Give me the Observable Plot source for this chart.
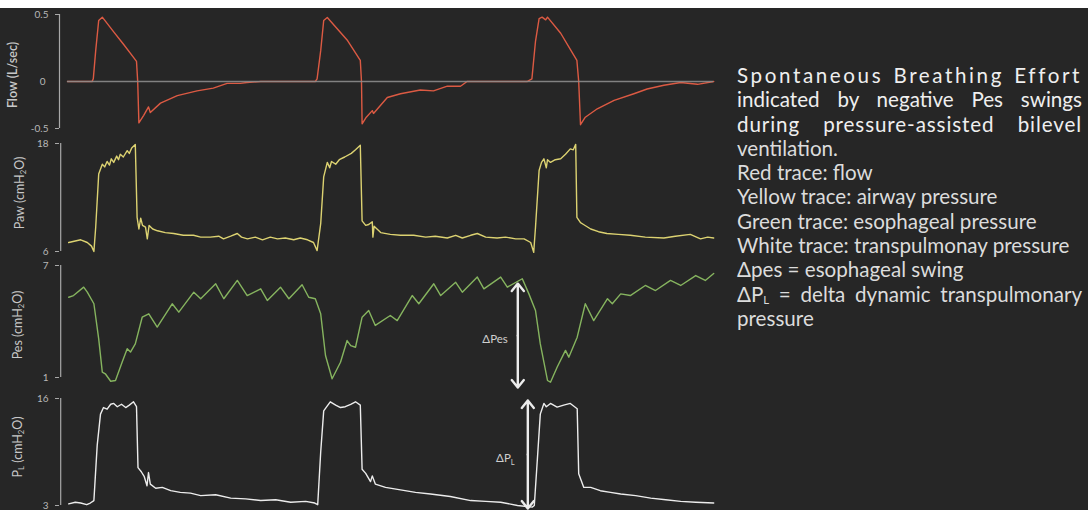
<!DOCTYPE html>
<html>
<head>
<meta charset="utf-8">
<script src="https://cdn.jsdelivr.net/npm/d3@7"></script>
<script src="https://cdn.jsdelivr.net/npm/@observablehq/plot@0.6"></script>
<style>
  html, body { margin: 0; padding: 0; background: #ffffff; }
  #root { position: relative; width: 1088px; height: 510px; overflow: hidden; background: #ffffff; }
  #dark { position: absolute; left: 0; top: 8px; width: 1088px; height: 502px; background: #262626; }
  .panel { position: absolute; left: 0; }
  .panel svg { display: block; }
  .ylab { position: absolute; transform: translate(-50%, -50%) rotate(-90deg); white-space: nowrap;
          font-family: Lato, "Open Sans", sans-serif; font-size: 12.5px; color: #c8c8c8; }
  .ylab sub { font-size: 0.62em; line-height: 0; vertical-align: -0.3em; }
  #note sub { font-size: 0.55em; line-height: 0; vertical-align: -0.15em; }
  #note { position: absolute; left: 737px; top: 63px; width: 345px; font-family: Lato, "Open Sans", sans-serif;
          font-size: 20.6px; line-height: 24.3px; color: #dcdcdc; }
  #note div { height: 24.3px; }
  #note .j { text-align: justify; text-align-last: justify; white-space: nowrap; }
  #note .w { color: #efefef; }
</style>
</head>
<body>
<div id="root">
  <div id="dark"></div>
</div>
<script>
// ---------- data (time in s, values in panel units) ----------
const flowTrace = [
  [0,0],[0.41,0],[0.43,0.02],[0.47,0.23],[0.52,0.455],[0.58,0.48],[0.77,0.37],[0.93,0.28],[1.10,0.18],[1.15,0.15],
  [1.17,0],[1.19,-0.44],[1.27,-0.36],[1.35,-0.27],[1.38,-0.33],[1.55,-0.23],[1.83,-0.15],[2.16,-0.10],[2.43,-0.07],
  [2.66,-0.02],[2.88,-0.02],[2.99,-0.01],[3.22,0],[4.13,0],[4.16,0.02],[4.22,0.23],[4.27,0.455],[4.33,0.478],
  [4.66,0.31],[4.88,0.157],[4.90,0],[4.91,-0.45],[4.98,-0.38],[5.08,-0.31],[5.10,-0.34],[5.33,-0.17],[5.55,-0.13],
  [5.88,-0.09],[6.10,-0.10],[6.33,-0.05],[6.55,-0.05],[6.66,0],[7.66,0],[7.74,0.02],[7.80,0.30],[7.86,0.47],
  [7.91,0.48],[7.97,0.46],[8.00,0.48],[8.22,0.36],[8.38,0.24],[8.49,0.157],[8.52,0],[8.55,-0.46],[8.63,-0.38],
  [8.83,-0.29],[9.11,-0.20],[9.44,-0.13],[9.66,-0.08],[9.94,-0.04],[10.22,-0.01],[10.50,-0.03],[10.77,0]
];
const pawTrace = [
  [0.02,7.0],[0.22,7.3],[0.33,7.0],[0.40,6.6],[0.44,6.0],[0.47,8.7],[0.52,14.6],[0.58,15.7],[0.62,15.4],[0.66,16.0],
  [0.70,15.6],[0.73,16.3],[0.77,15.9],[0.82,16.6],[0.85,16.2],[0.88,16.8],[0.93,16.5],[0.995,17.2],[1.03,16.9],
  [1.07,17.5],[1.13,17.9],[1.16,9.8],[1.19,8.5],[1.22,9.7],[1.25,8.9],[1.30,8.7],[1.33,7.4],[1.36,8.9],[1.42,8.5],
  [1.50,8.3],[1.63,8.1],[1.77,8.0],[1.93,7.8],[2.10,7.8],[2.22,7.6],[2.38,7.6],[2.52,7.7],[2.60,7.4],[2.72,7.7],
  [2.83,8.0],[2.90,7.6],[3.00,7.4],[3.13,7.6],[3.25,7.3],[3.38,7.6],[3.50,7.4],[3.63,7.5],[3.77,7.3],[3.88,7.5],
  [4.00,7.3],[4.10,7.0],[4.16,6.1],[4.22,9.1],[4.27,14.3],[4.33,15.9],[4.37,15.3],[4.40,16.0],[4.47,15.7],[4.53,16.2],
  [4.62,16.5],[4.73,16.9],[4.80,17.3],[4.88,17.8],[4.91,9.4],[4.97,8.9],[5.02,9.0],[5.08,9.3],[5.09,7.6],[5.11,8.8],
  [5.22,8.1],[5.38,7.9],[5.55,7.8],[5.77,7.8],[5.97,7.6],[6.13,7.7],[6.33,7.5],[6.47,7.8],[6.58,7.5],[6.72,7.8],
  [6.83,8.0],[6.97,7.6],[7.16,7.5],[7.30,7.6],[7.47,7.4],[7.61,7.4],[7.72,7.0],[7.77,5.9],[7.80,8.7],[7.86,15.0],
  [7.90,15.9],[7.94,16.3],[7.98,15.3],[8.00,16.2],[8.05,15.9],[8.13,16.2],[8.22,16.3],[8.30,16.8],[8.38,17.4],
  [8.43,17.3],[8.47,17.9],[8.49,9.8],[8.55,9.2],[8.60,9.0],[8.72,8.5],[8.85,8.2],[8.99,8.0],[9.18,7.9],[9.38,7.8],
  [9.63,7.6],[9.94,7.5],[10.13,7.7],[10.38,7.9],[10.55,7.4],[10.67,7.6],[10.77,7.5]
];
const pesTrace = [
  [0.02,5.30],[0.10,5.39],[0.27,5.84],[0.33,5.57],[0.44,4.95],[0.52,3.07],[0.58,1.29],[0.63,1.2],[0.72,0.8],[0.80,0.84],
  [0.91,1.82],[0.995,2.54],[1.05,2.36],[1.13,2.8],[1.245,4.23],[1.355,4.41],[1.495,3.7],[1.745,4.95],[1.855,4.5],
  [2.105,5.57],[2.22,5.22],[2.47,6.02],[2.605,5.22],[2.83,6.2],[2.995,5.39],[3.22,5.75],[3.33,5.13],[3.55,5.84],
  [3.69,5.22],[3.91,5.97],[4.02,5.3],[4.13,5.22],[4.22,4.41],[4.30,2.18],[4.41,0.93],[4.55,1.82],[4.66,2.98],
  [4.72,2.71],[4.80,2.62],[4.91,4.23],[5.02,4.59],[5.13,3.79],[5.38,4.32],[5.495,4.05],[5.745,5.39],[5.855,4.95],
  [6.105,6.02],[6.22,5.39],[6.47,6.1],[6.58,5.57],[6.83,6.38],[6.94,5.75],[7.22,6.38],[7.33,5.84],[7.58,6.29],
  [7.69,5.48],[7.80,4.59],[7.88,2.8],[8.00,0.84],[8.05,0.75],[8.16,1.55],[8.30,2.45],[8.355,2.09],[8.495,3.16],
  [8.63,4.95],[8.77,4.05],[9.00,5.22],[9.08,4.95],[9.22,5.48],[9.38,5.39],[9.63,5.93],[9.80,5.66],[10.05,6.2],
  [10.22,5.93],[10.47,6.46],[10.63,6.2],[10.77,6.57]
];
const plTrace = [
  [0.02,3.2],[0.13,3.4],[0.22,3.3],[0.32,3.1],[0.38,3.3],[0.44,3.6],[0.495,10.3],[0.55,14.1],[0.60,14.9],[0.66,14.7],
  [0.72,15.3],[0.77,15.4],[0.83,15.0],[0.90,15.3],[0.97,14.9],[1.03,15.2],[1.10,15.6],[1.15,15.0],[1.175,7.6],
  [1.23,7.1],[1.28,6.5],[1.325,5.4],[1.35,7.0],[1.38,5.6],[1.47,5.1],[1.58,5.2],[1.72,4.8],[1.88,4.6],[2.05,4.5],
  [2.22,4.2],[2.47,4.3],[2.72,3.9],[2.97,3.8],[3.22,3.6],[3.47,3.7],[3.72,3.4],[3.97,3.5],[4.12,3.3],[4.17,3.1],
  [4.22,9.5],[4.27,14.5],[4.33,15.1],[4.38,15.6],[4.47,15.2],[4.55,14.9],[4.63,15.0],[4.72,15.3],[4.80,15.6],
  [4.88,15.2],[4.91,7.4],[4.97,6.9],[5.05,5.9],[5.08,6.6],[5.13,5.6],[5.30,5.2],[5.55,4.9],[5.80,4.6],[6.05,4.4],
  [6.38,4.1],[6.72,3.6],[6.97,3.5],[7.22,3.4],[7.50,3.0],[7.745,2.8],[7.78,3.0],[7.83,8.5],[7.88,14.1],[7.94,15.4],
  [7.98,15.0],[8.05,15.4],[8.16,14.95],[8.27,15.2],[8.38,15.4],[8.495,14.75],[8.52,6.85],[8.605,5.2],[8.72,5.2],
  [8.88,4.8],[9.05,4.6],[9.22,4.4],[9.47,4.2],[9.72,3.9],[9.97,3.7],[10.22,3.5],[10.47,3.4],[10.77,3.3]
];

const timeDomain = [0, 10.8];
const flowPosTicks = [0.5];
const flowNegTicks = [-0.5];
const flowMidTicks = [0];
const pawTicks = [6, 18];
const pesTicks = [1, 7];
const plTicks = [3, 16];

const panelTitles = ["Flow (L/sec)", "Paw (cmH<sub>2</sub>O)", "Pes (cmH<sub>2</sub>O)", "P<sub>L</sub> (cmH<sub>2</sub>O)"];

const deltaNames = ["ΔPes", "ΔP"];
const deltaSubs = ["", "L"];
const deltaTime = [7.505, 7.672];
const deltaLow = [0.46, 2.63];
const deltaHigh = [6.03, 15.76];

const noteLines = [
  "Spontaneous Breathing Effort",
  "indicated by negative Pes swings",
  "during pressure-assisted bilevel",
  "ventilation.",
  "Red trace: flow",
  "Yellow trace: airway pressure",
  "Green trace: esophageal pressure",
  "White trace: transpulmonay pressure",
  "Δpes = esophageal swing",
  "ΔP<sub>L</sub> = delta dynamic transpulmonary",
  "pressure"
];

// ---------- drawing ----------
const root = document.getElementById("root");
const FONT = "Lato, 'Open Sans', sans-serif";
const AXIS_COLOR = "#a9a9a9";
const TICK_TEXT = "#b8b8b8";

function deltaMarks(i) {
  const d = [{t: deltaTime[i], lo: deltaLow[i], hi: deltaHigh[i], name: deltaNames[i], sub: deltaSubs[i]}];
  const mid = r => (r.lo + r.hi) / 2;
  const arrowStyle = {stroke: "#ececec", strokeWidth: 2.4, headLength: 6, headAngle: 78};
  const marks = [
    Plot.arrow(d, {x1: "t", x2: "t", y1: mid, y2: "hi", ...arrowStyle}),
    Plot.arrow(d, {x1: "t", x2: "t", y1: mid, y2: "lo", ...arrowStyle}),
    Plot.text(d, {x: "t", y: mid, text: "name", dx: i === 0 ? -10 : -17, dy: 4, textAnchor: "end",
                  fill: "#cfcfcf", fontSize: 11.5, fontFamily: FONT})
  ];
  if (d[0].sub) marks.push(Plot.text(d, {x: "t", y: mid, text: "sub", dx: -17, dy: 8, textAnchor: "start",
                  fill: "#cfcfcf", fontSize: 7.5, fontFamily: FONT}));
  return marks;
}

function panel({trace, color, yDomain, height, top, mt, mb, ticks, ruleSpan, midTicks = [], extra = [],
                zeroLine = false, clip = false}) {
  const data = trace.map(([t, v]) => ({t, v}));
  const [lo, hi] = ruleSpan || d3.extent(ticks);
  const marks = [
    Plot.ruleX([data[0].t], {y1: lo, y2: hi, dx: -8, stroke: AXIS_COLOR, strokeWidth: 1.2}),
    Plot.axisY({ticks, tickSize: 4, tickPadding: 7, tickFormat: d => String(d), label: null,
                stroke: AXIS_COLOR, fill: TICK_TEXT}),
    Plot.line(data, {x: "t", y: "v", stroke: color, strokeWidth: 1.4, strokeLinejoin: "round", clip})
  ];
  if (midTicks.length) marks.push(Plot.axisY({ticks: midTicks, tickSize: 0, tickPadding: 14,
                tickFormat: d => String(d), label: null, fill: TICK_TEXT}));
  if (zeroLine) marks.push(Plot.ruleY([0], {x1: data[0].t, x2: data[data.length - 1].t, stroke: "#8c8c8c",
                strokeWidth: 1.4, strokeOpacity: 0.9}));
  const svg = Plot.plot({
    width: 720, height,
    marginLeft: 59, marginRight: 5, marginTop: mt, marginBottom: mb,
    style: {background: "transparent", color: TICK_TEXT, fontFamily: FONT, fontSize: "10px", overflow: "visible"},
    x: {domain: timeDomain, insetLeft: 8, axis: null},
    y: {domain: yDomain, label: null},
    marks: [...marks, ...extra]
  });
  const div = document.createElement("div");
  div.className = "panel";
  div.style.top = top + "px";
  div.appendChild(svg);
  root.appendChild(div);
}

// The flow axis of the original is not symmetric (0 sits lower than midway), so the panel
// is drawn as two linear halves sharing the zero line: inspiration (0..0.5) and expiration (−0.5..0).
panel({trace: flowTrace, color: "#dc5a43", yDomain: [0, 0.5], height: 73, top: 8, mt: 6, mb: 0,
       ticks: flowPosTicks, ruleSpan: [0, 0.5], midTicks: flowMidTicks, clip: true});
panel({trace: flowTrace, color: "#dc5a43", yDomain: [-0.5, 0], height: 52, top: 81, mt: 0, mb: 5,
       ticks: flowNegTicks, ruleSpan: [-0.5, 0], clip: true, zeroLine: true});
panel({trace: pawTrace, color: "#dcd271", yDomain: [6, 18], height: 125, top: 133, mt: 10, mb: 7, ticks: pawTicks});
panel({trace: pesTrace, color: "#86b45f", yDomain: [1, 7], height: 130, top: 258, mt: 7, mb: 11, ticks: pesTicks,
       extra: deltaMarks(0)});
panel({trace: plTrace, color: "#ececec", yDomain: [3, 16], height: 122, top: 388, mt: 10, mb: 5, ticks: plTicks,
       extra: deltaMarks(1)});

// axis titles
const titlePos = [[12, 75, 600], [19, 193, 400], [17, 325, 400], [17, 447, 400]];
panelTitles.forEach((t, i) => {
  const el = document.createElement("div");
  el.className = "ylab";
  el.innerHTML = t;
  el.style.left = titlePos[i][0] + "px";
  el.style.top = titlePos[i][1] + "px";
  el.style.fontWeight = titlePos[i][2];
  root.appendChild(el);
});

// annotation text
const note = document.createElement("div");
note.id = "note";
const justified = {0: "2.6px", 1: "0px", 2: "0.9px", 9: "0px"};
noteLines.forEach((line, i) => {
  const el = document.createElement("div");
  el.innerHTML = line;
  if (i in justified) { el.className = "j"; el.style.letterSpacing = justified[i]; }
  if (i < 3) el.classList.add("w");
  note.appendChild(el);
});
root.appendChild(note);
</script>
</body>
</html>
